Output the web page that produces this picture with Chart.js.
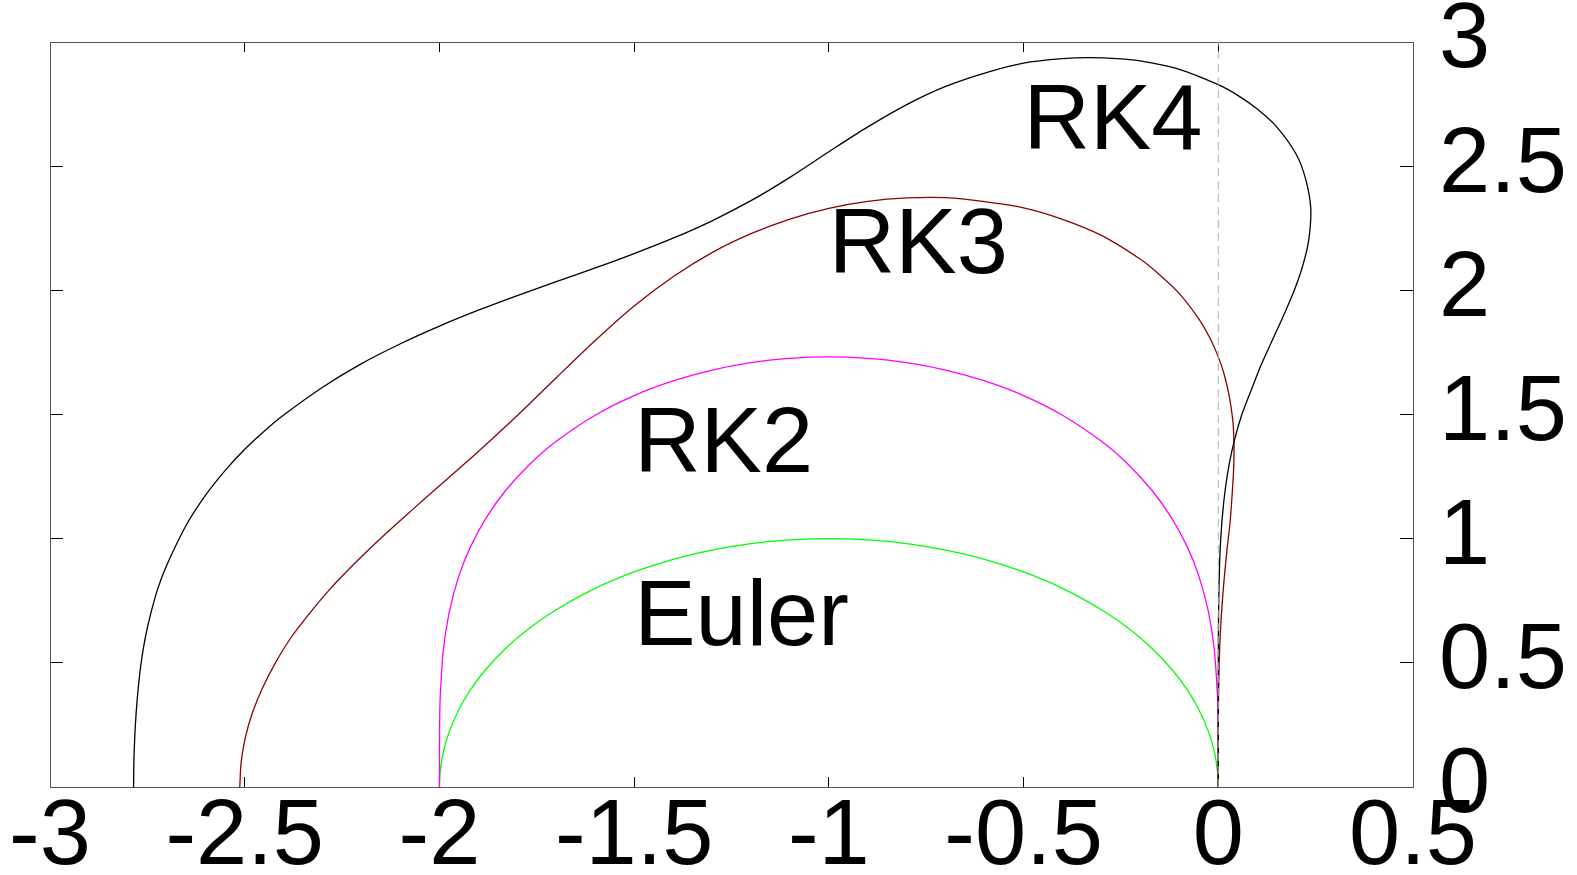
<!DOCTYPE html>
<html>
<head>
<meta charset="utf-8">
<title>Stability regions of explicit Runge-Kutta methods</title>
<script src="https://cdn.jsdelivr.net/npm/chart.js@4.4.1/dist/chart.umd.min.js"></script>
<style>
  html, body { margin: 0; padding: 0; background: #fff; }
  canvas { display: block; }
</style>
</head>
<body>
<canvas id="chart" width="1577" height="875"></canvas>
<script>
// Upper halves of the stability boundaries |R(z)| = 1, as [Re z, Im z] pairs.
const eulerPts = [
  [-2, 0], [-1.998, 0.063], [-1.99, 0.141], [-1.975, 0.222], [-1.95, 0.312], [-1.92, 0.392],
  [-1.88, 0.475], [-1.83, 0.558], [-1.77, 0.638], [-1.7, 0.714], [-1.6, 0.8], [-1.5, 0.866],
  [-1.4, 0.917], [-1.3, 0.954], [-1.2, 0.98], [-1.1, 0.995], [-1, 1], [-0.9, 0.995],
  [-0.8, 0.98], [-0.7, 0.954], [-0.6, 0.917], [-0.5, 0.866], [-0.4, 0.8], [-0.3, 0.714],
  [-0.23, 0.638], [-0.17, 0.558], [-0.12, 0.475], [-0.08, 0.392], [-0.05, 0.312],
  [-0.025, 0.222], [-0.01, 0.141], [-0.002, 0.063], [0, 0]
];

const rk2Pts = [
  [-2, 0], [-1.9995, 0.2535], [-1.998, 0.361], [-1.99, 0.55], [-1.975, 0.703], [-1.95, 0.85],
  [-1.92, 0.968], [-1.88, 1.084], [-1.83, 1.194], [-1.77, 1.297], [-1.7, 1.392], [-1.6, 1.497],
  [-1.5, 1.576], [-1.4, 1.635], [-1.3, 1.679], [-1.2, 1.709], [-1.1, 1.726], [-1, 1.732],
  [-0.9, 1.726], [-0.8, 1.709], [-0.7, 1.679], [-0.6, 1.635], [-0.5, 1.576], [-0.4, 1.497],
  [-0.3, 1.392], [-0.23, 1.297], [-0.17, 1.194], [-0.12, 1.084], [-0.08, 0.968], [-0.05, 0.85],
  [-0.025, 0.703], [-0.01, 0.55], [-0.002, 0.361], [-0.0005, 0.2535], [0, 0]
];

const rk3Pts = [
  [-2.5127, 0], [-2.5091, 0.1], [-2.4983, 0.2], [-2.48, 0.3], [-2.454, 0.4], [-2.4212, 0.5],
  [-2.3817, 0.6], [-2.333, 0.7], [-2.2794, 0.8], [-2.218, 0.9], [-2.152, 1.0], [-2.07, 1.116],
  [-2.0, 1.213], [-1.9, 1.351], [-1.8, 1.496], [-1.7, 1.648], [-1.6, 1.798], [-1.5, 1.937],
  [-1.4, 2.055], [-1.3, 2.152], [-1.2, 2.228], [-1.1, 2.287], [-1.0, 2.33], [-0.9, 2.358],
  [-0.8, 2.372], [-0.7, 2.373], [-0.6, 2.357], [-0.5, 2.332], [-0.4, 2.286], [-0.3, 2.221],
  [-0.2, 2.125], [-0.15, 2.062], [-0.1, 1.987], [-0.05, 1.885], [-0.02, 1.803], [0, 1.732],
  [0.015, 1.662], [0.028, 1.575], [0.037, 1.48], [0.04, 1.4], [0.0399, 1.3], [0.0365, 1.2],
  [0.0305, 1.07], [0.022, 0.95], [0.013, 0.8], [0.0063, 0.65], [0.0024, 0.5], [0.0006, 0.35],
  [0.0001, 0.2], [0, 0]
];

const rk4Pts = [
  [-2.7853, 0], [-2.7846, 0.1], [-2.7824, 0.2], [-2.7787, 0.3], [-2.7733, 0.4], [-2.766, 0.5],
  [-2.7555, 0.6], [-2.741, 0.7], [-2.723, 0.8], [-2.7, 0.894], [-2.65, 1.055], [-2.6, 1.176],
  [-2.55, 1.275], [-2.5, 1.36], [-2.45, 1.433], [-2.4, 1.498], [-2.3, 1.61], [-2.2, 1.705],
  [-2.1, 1.785], [-2.0, 1.856], [-1.9, 1.92], [-1.8, 1.979], [-1.7, 2.035], [-1.6, 2.09],
  [-1.5, 2.148], [-1.4, 2.21], [-1.3, 2.28], [-1.2, 2.361], [-1.1, 2.455], [-1.0, 2.558],
  [-0.9, 2.658], [-0.8, 2.748], [-0.7, 2.821], [-0.6, 2.875], [-0.5, 2.915], [-0.4, 2.933],
  [-0.33, 2.937], [-0.25, 2.932], [-0.2, 2.924], [-0.1, 2.89], [0, 2.828], [0.05, 2.785],
  [0.1, 2.73], [0.15, 2.658], [0.2, 2.548], [0.224, 2.45], [0.2375, 2.33], [0.232, 2.2],
  [0.217, 2.1], [0.1952, 2.0], [0.168, 1.9], [0.139, 1.8], [0.1102, 1.7], [0.085, 1.6],
  [0.0605, 1.5], [0.042, 1.4], [0.028, 1.3], [0.018, 1.2], [0.011, 1.1], [0.0063, 1.0],
  [0.0034, 0.9], [0.0017, 0.8], [0.0008, 0.7], [0.0003, 0.6], [0, 0.3], [0, 0]
];

// Imaginary axis guide
const imagAxisPts = [[0, 0], [0, 3]];

// Axis ticks
const xTicks = [-3, -2.5, -2, -1.5, -1, -0.5, 0, 0.5];
const yTicks = [0, 0.5, 1, 1.5, 2, 2.5, 3];

// In-plot method names and their anchor points (data coordinates)
const curveNames = ['RK4', 'RK3', 'RK2', 'Euler'];
const nameX = [-0.5, -1.0, -1.5, -1.5];
const nameY = [2.57, 2.07, 1.27, 0.57];

const fontFamily = "'Liberation Sans', Arial, Helvetica, sans-serif";
const tickFont = { family: fontFamily, size: 92, lineHeight: 1.2 };

const toXY = pts => pts.map(([x, y]) => ({ x, y }));

const curve = (pts, color) => ({
  data: toXY(pts),
  borderColor: color,
  borderWidth: 1.3,
  showLine: true,
  pointRadius: 0,
  tension: 0.3,
  fill: false
});

const setTicks = values => scale => { scale.ticks = values.map(value => ({ value })); };

const frameGrid = len => ({
  drawOnChartArea: false,
  drawTicks: true,
  tickLength: len,
  color: '#000',
  tickWidth: 1
});
const frameBorder = { color: '#555', width: 1 };

const labelPlugin = {
  id: 'curveLabels',
  afterDatasetsDraw(chart) {
    const { ctx, scales: { x, y } } = chart;
    ctx.save();
    ctx.font = `92px ${fontFamily}`;
    ctx.fillStyle = '#000';
    ctx.textAlign = 'left';
    ctx.textBaseline = 'alphabetic';
    curveNames.forEach((name, i) => {
      ctx.fillText(name, x.getPixelForValue(nameX[i]), y.getPixelForValue(nameY[i]));
    });
    ctx.restore();
  }
};

new Chart(document.getElementById('chart'), {
  type: 'scatter',
  data: {
    datasets: [
      {
        data: toXY(imagAxisPts),
        borderColor: '#b0b0b0',
        borderWidth: 1,
        borderDash: [8, 5],
        showLine: true,
        pointRadius: 0,
        tension: 0
      },
      curve(rk4Pts, '#000000'),
      curve(rk3Pts, '#8b0000'),
      curve(rk2Pts, '#ff00ff'),
      curve(eulerPts, '#00ff00')
    ]
  },
  options: {
    responsive: false,
    animation: false,
    devicePixelRatio: 1,
    events: [],
    layout: { padding: { left: 50, top: 42, right: 0, bottom: 0 } },
    plugins: {
      legend: { display: false },
      tooltip: { enabled: false }
    },
    scales: {
      x: {
        type: 'linear',
        axis: 'x',
        position: 'bottom',
        min: -3,
        max: 0.5,
        afterBuildTicks: setTicks(xTicks),
        afterFit: s => { s.height = 88; s.paddingLeft = 0; s.paddingRight = 0; },
        ticks: {
          font: tickFont,
          color: '#000',
          padding: 6,
          maxRotation: 0,
          minRotation: 0,
          autoSkip: false,
          callback: v => String(v)
        },
        grid: frameGrid(-10),
        border: frameBorder
      },
      xTop: {
        type: 'linear',
        axis: 'x',
        position: 'top',
        min: -3,
        max: 0.5,
        afterBuildTicks: setTicks(xTicks),
        afterFit: s => { s.height = 0; s.paddingLeft = 0; s.paddingRight = 0; },
        ticks: { display: false },
        grid: frameGrid(-10),
        border: frameBorder
      },
      y: {
        type: 'linear',
        axis: 'y',
        position: 'right',
        min: 0,
        max: 3,
        afterBuildTicks: setTicks(yTicks),
        afterFit: s => { s.width = 164; s.paddingTop = 0; s.paddingBottom = 0; },
        ticks: {
          font: tickFont,
          color: '#000',
          padding: 39,
          autoSkip: false,
          callback: v => String(v)
        },
        grid: frameGrid(-13),
        border: frameBorder
      },
      yLeft: {
        type: 'linear',
        axis: 'y',
        position: 'left',
        min: 0,
        max: 3,
        afterBuildTicks: setTicks(yTicks),
        afterFit: s => { s.width = 0; s.paddingTop = 0; s.paddingBottom = 0; },
        ticks: { display: false },
        grid: frameGrid(-13),
        border: frameBorder
      }
    }
  },
  plugins: [labelPlugin]
});
</script>
</body>
</html>
